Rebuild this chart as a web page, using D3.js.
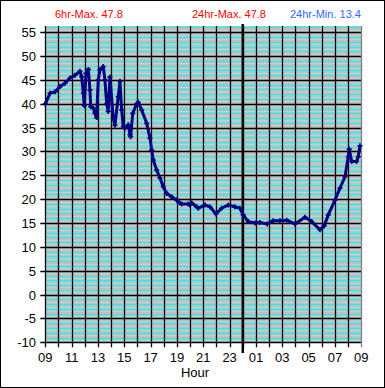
<!DOCTYPE html>
<html>
<head>
<meta charset="utf-8">
<script src="https://cdn.jsdelivr.net/npm/d3@7"></script>
<style>
  body { margin: 0; background: #fff; }
  text { font-family: "Liberation Sans", Arial, sans-serif; }
</style>
</head>
<body>
<div id="chart"></div>
<script>
// hours after 09:00 and temperature readings
var hours = [0, 0.36, 0.74, 1.12, 1.5, 1.88, 2.26, 2.63, 2.76, 2.89, 2.96, 3.09, 3.27, 3.39, 3.45,
  3.64, 3.77, 3.9, 4.02, 4.15, 4.4, 4.53, 4.66, 4.78, 4.91, 5.16, 5.29, 5.54, 5.67, 5.8, 5.92,
  6.05, 6.3, 6.43, 6.48, 6.64, 6.94, 7.06, 7.32, 7.7, 7.95, 8.08, 8.2, 8.46, 8.71, 8.96, 9.22,
  9.6, 9.98, 10.21, 10.36, 10.86, 10.98, 11.12, 11.5, 11.62, 12.13, 12.51, 12.96, 13.39, 13.9,
  14.4, 14.78, 15.03, 15.41, 15.92, 16.3, 16.86, 17.31, 17.82, 18.33, 18.96, 19.72, 20.23,
  20.86, 21.18, 21.49, 22.0, 22.38, 22.76, 23.01, 23.08, 23.27, 23.64, 23.77, 23.9];
var temps = [40.0, 42.2, 42.5, 43.6, 44.3, 45.4, 46.0, 46.8, 45.7, 42.2, 39.6, 46.4, 47.2, 42.9, 39.4,
  39.1, 38.0, 37.1, 45.0, 47.1, 47.8, 45.0, 40.0, 38.4, 45.6, 37.0, 35.5, 41.5, 44.7, 38.7, 35.2,
  34.9, 35.6, 33.5, 33.1, 38.0, 40.0, 40.3, 38.7, 35.9, 32.8, 30.3, 28.2, 26.1, 24.4, 22.6, 21.2,
  20.5, 19.8, 19.2, 19.0, 19.0, 18.8, 19.2, 18.4, 18.1, 18.8, 18.4, 16.9, 18.1, 18.8,
  18.4, 18.1, 16.7, 15.3, 15.0, 15.1, 14.8, 15.5, 15.5, 15.6, 14.8, 16.2, 15.3,
  13.6, 14.4, 16.7, 19.8, 22.3, 24.7, 28.9, 30.5, 27.9, 27.9, 28.9, 31.2];

var xTickLabels = ["09", "11", "13", "15", "17", "19", "21", "23", "01", "03", "05", "07", "09"];
var yTicks = [-10, -5, 0, 5, 10, 15, 20, 25, 30, 35, 40, 45, 50, 55];
var titles = ["6hr-Max. 47.8", "24hr-Max. 47.8", "24hr-Min. 13.4"];

var W = 385, H = 388;
var svg = d3.select("#chart").append("svg").attr("width", W).attr("height", H);

svg.append("rect")
  .attr("x", 0.5).attr("y", 0.5)
  .attr("width", W - 1).attr("height", H - 1)
  .attr("fill", "#fff").attr("stroke", "#000");

var x = d3.scaleLinear().domain([0, 24]).range([45.3, 361.3]);
var y = d3.scaleLinear().domain([-10, 56.3]).range([342.3, 26]);

var plotTop = y(56.3), plotBot = y(-10);

// plot background
svg.append("rect")
  .attr("x", x(0)).attr("y", plotTop)
  .attr("width", x(24) - x(0)).attr("height", plotBot - plotTop)
  .attr("fill", "#c0c0c0");

// minor horizontal stripes
var halfLines = d3.range(-9.5, 56, 1);
svg.append("g").selectAll("line").data(halfLines).enter().append("line")
  .attr("x1", x(0)).attr("x2", x(24))
  .attr("y1", function (d) { return Math.round(y(d)) + 0.5; })
  .attr("y2", function (d) { return Math.round(y(d)) + 0.5; })
  .attr("stroke", "#b6d4d4").attr("stroke-width", 1);

var minorLines = d3.range(-9, 57, 1).filter(function (d) { return d % 5 !== 0; });
svg.append("g").selectAll("line").data(minorLines).enter().append("line")
  .attr("x1", x(0)).attr("x2", x(24))
  .attr("y1", function (d) { return Math.round(y(d)) + 0.5; })
  .attr("y2", function (d) { return Math.round(y(d)) + 0.5; })
  .attr("stroke", "#00ffff").attr("stroke-width", 1);

// major gridlines
svg.append("g").selectAll("line").data(yTicks).enter().append("line")
  .attr("x1", x(0) - 5).attr("x2", x(24))
  .attr("y1", function (d) { return Math.round(y(d)) + 0.5; })
  .attr("y2", function (d) { return Math.round(y(d)) + 0.5; })
  .attr("stroke", "#000").attr("stroke-width", 1.3);

svg.append("g").selectAll("line").data(d3.range(0, 25, 1)).enter().append("line")
  .attr("x1", function (d) { return Math.round(x(d)) + 0.5; })
  .attr("x2", function (d) { return Math.round(x(d)) + 0.5; })
  .attr("y1", plotTop)
  .attr("y2", plotBot + 5)
  .attr("stroke", function (d) { return d === 24 ? "#808080" : "#000"; })
  .attr("stroke-width", 1.3);

// midnight marker
svg.append("line")
  .attr("x1", x(15)).attr("x2", x(15))
  .attr("y1", 24).attr("y2", 353)
  .attr("stroke", "#000").attr("stroke-width", 2.5);

// y labels
svg.append("g").selectAll("text").data(yTicks).enter().append("text")
  .attr("x", 36)
  .attr("y", function (d) { return y(d) + 5; })
  .attr("text-anchor", "end")
  .attr("font-size", 13)
  .text(function (d) { return d; });

// x labels
svg.append("g").selectAll("text").data(xTickLabels).enter().append("text")
  .attr("x", function (d, i) { return x(i * 2); })
  .attr("y", 362)
  .attr("text-anchor", "middle")
  .attr("font-size", 13)
  .text(function (d) { return d; });

svg.append("text")
  .attr("x", 195).attr("y", 377)
  .attr("text-anchor", "middle")
  .attr("font-size", 13)
  .text("Hour");

// header
var titleX = [55, 192, 290];
var titleColor = ["#ff0000", "#ff0000", "#3366ff"];
svg.append("g").selectAll("text").data(titles).enter().append("text")
  .attr("x", function (d, i) { return titleX[i]; })
  .attr("y", 18)
  .attr("font-size", 11)
  .attr("fill", function (d, i) { return titleColor[i]; })
  .text(function (d) { return d; });

// temperature trace
var pts = hours.map(function (h, i) { return [h, temps[i]]; });
var line = d3.line()
  .x(function (d) { return x(d[0]); })
  .y(function (d) { return y(d[1]); });

svg.append("path")
  .attr("d", line(pts))
  .attr("fill", "none")
  .attr("stroke", "#000080")
  .attr("stroke-width", 3)
  .attr("stroke-linejoin", "round");

// plus markers on readings
svg.append("g").selectAll("path").data(pts).enter().append("path")
  .attr("d", d3.symbol().type(d3.symbolCross).size(14))
  .attr("transform", function (d) { return "translate(" + x(d[0]) + "," + y(d[1]) + ")"; })
  .attr("fill", "#000080");
</script>
</body>
</html>
